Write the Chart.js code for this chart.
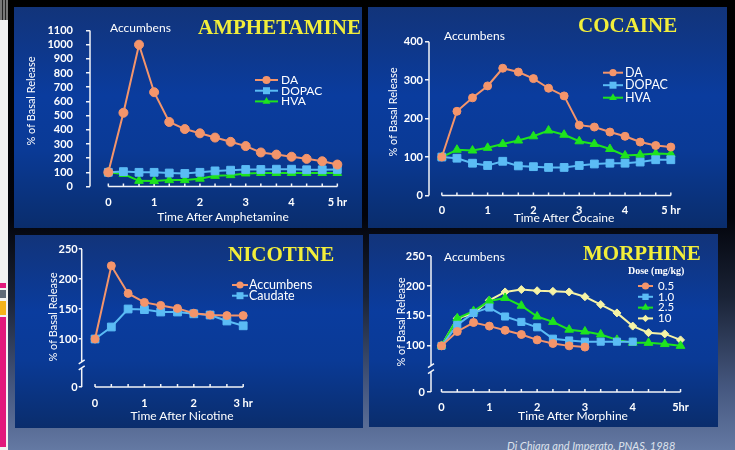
<!DOCTYPE html>
<html>
<head>
<meta charset="utf-8">
<script src="https://cdn.jsdelivr.net/npm/chart.js@4.4.0/dist/chart.umd.min.js"></script>
<style>
html, body { margin: 0; padding: 0; background: #000; }
#slide {
    position: relative; width: 735px; height: 450px; overflow: hidden;
    background: linear-gradient(to bottom, #000 0%, #02030a 48%, #1a2336 66%, #45577f 86%, #6479a3 100%);
    font-family: Lato, 'Open Sans', sans-serif; color: #fff;
}
.panel { position: absolute; background: linear-gradient(to bottom, #12347a 0%, #0a3c9e 40%, #0a3a96 65%, #0a2d6c 100%); }
.panel canvas { position: absolute; left: 0; top: 0; }
.txt { position: absolute; white-space: nowrap; line-height: 1; }
.drug { font-family: 'Liberation Serif', serif; font-weight: bold; font-size: 21px; color: #f2ee3a; transform: translateY(-50%); }
.site { font-size: 12px; transform: translateY(-50%); }
.ytitle { font-size: 11px; transform: translate(-50%, -50%) rotate(-90deg); }
.xtitle { font-size: 12px; transform: translate(-50%, -50%); }
.cite { font-size: 11px; font-style: italic; color: #dde2ec; transform: translateY(-50%); }
.bar { position: absolute; left: 0; width: 6px; }
</style>
</head>
<body>
<div id="slide">
    <!-- left edge of the slide template -->
    <div style="position:absolute;left:0;top:20px;width:8px;height:430px;background:#f2f2f2"></div>
    <div style="position:absolute;left:0;top:0;width:8px;height:20px;background:repeating-linear-gradient(to right,#777 0 2px,#222 2px 3px)"></div>
    <div class="bar" style="top:283px;height:5px;background:#e2187c"></div>
    <div class="bar" style="top:290px;height:8px;background:#5f6977"></div>
    <div class="bar" style="top:301px;height:14px;background:#f5b31a"></div>
    <div class="bar" style="top:317px;height:130px;background:#e2187c"></div>

    <div class="panel" style="left:14px;top:7px;width:348px;height:221px"><canvas id="amp" width="348" height="221"></canvas></div>
    <div class="panel" style="left:368px;top:7px;width:359px;height:221px"><canvas id="coc" width="359" height="221"></canvas></div>
    <div class="panel" style="left:15px;top:235px;width:348px;height:193px"><canvas id="nic" width="348" height="193"></canvas></div>
    <div class="panel" style="left:369px;top:234px;width:349px;height:193px"><canvas id="mor" width="349" height="193"></canvas></div>

    <div class="txt drug" style="left:198px;top:27px">AMPHETAMINE</div>
    <div class="txt drug" style="left:578px;top:25px">COCAINE</div>
    <div class="txt drug" style="left:228px;top:254px">NICOTINE</div>
    <div class="txt drug" style="left:583px;top:253px">MORPHINE</div>

    <div class="txt site" style="left:110px;top:28px">Accumbens</div>
    <div class="txt site" style="left:444px;top:36px">Accumbens</div>
    <div class="txt site" style="left:444px;top:257px">Accumbens</div>

    <div class="txt ytitle" style="left:30px;top:101px">% of Basal Release</div>
    <div class="txt ytitle" style="left:392px;top:112px">% of Basal Release</div>
    <div class="txt ytitle" style="left:52px;top:317px">% of Basal Release</div>
    <div class="txt ytitle" style="left:400px;top:322px">% of Basal Release</div>

    <div class="txt xtitle" style="left:223px;top:217px">Time After Amphetamine</div>
    <div class="txt xtitle" style="left:564px;top:218px">Time After Cocaine</div>
    <div class="txt xtitle" style="left:182px;top:416px">Time After Nicotine</div>
    <div class="txt xtitle" style="left:573px;top:416px">Time After Morphine</div>

    <div class="txt cite" style="left:507px;top:445px">Di Chiara and Imperato, PNAS, 1988</div>
</div>

<script>
// colours
const orange = '#f4956b';
const blue = '#5bbcf5';
const green = '#1ee41e';
const cream = '#f6f3a6';

// sample times (hours, every 20 min)
const time5 = [0, 0.33, 0.67, 1, 1.33, 1.67, 2, 2.33, 2.67, 3, 3.33, 3.67, 4, 4.33, 4.67, 5];
const time3 = [0, 0.33, 0.67, 1, 1.33, 1.67, 2, 2.33, 2.67, 3];

// amphetamine
const ampDA = [100, 520, 1000, 665, 455, 405, 375, 345, 315, 285, 240, 225, 210, 195, 178, 155];
const ampDOPAC = [100, 105, 100, 100, 95, 92, 100, 110, 115, 120, 120, 122, 122, 118, 118, 120];
const ampHVA = [100, 88, 40, 38, 45, 45, 55, 75, 80, 92, 95, 95, 95, 95, 95, 95];

// cocaine
const cocDA = [100, 219, 254, 285, 331, 321, 304, 279, 259, 183, 178, 165, 154, 139, 130, 126];
const cocDOPAC = [100, 97, 84, 78, 89, 77, 75, 73, 73, 78, 82, 84, 84, 87, 93, 93];
const cocHVA = [100, 119, 117, 124, 134, 143, 154, 169, 158, 141, 134, 121, 104, 106, 109, 108];

// nicotine
const nicAccumbens = [100, 222, 176, 161, 156, 151, 143, 140, 139, 139];
const nicCaudate = [100, 120, 150, 149, 145, 145, 142, 140, 130, 122];

// morphine, by dose (mg/kg)
const mor05 = [100, 124, 139, 133, 126, 119, 110, 104, 100, 98];
const mor10 = [100, 135, 155, 164, 149, 140, 131, 112, 109, 107, 107, 107, 107];
const mor25 = [100, 146, 158, 175, 180, 167, 149, 140, 127, 124, 119, 110, 105, 105, 103, 100];
const mor100 = [100, 146, 154, 176, 190, 194, 192, 191, 190, 182, 169, 155, 133, 122, 120, 110];

// axis ticks
const hr5Ticks = [0, 1, 2, 3, 4, 5];
const hr5Labels = ['0', '1', '2', '3', '4', '5 hr'];
const hr5LabelsMor = ['0', '1', '2', '3', '4', '5hr'];
const hr3Ticks = [0, 1, 2, 3];
const hr3Labels = ['0', '1', '2', '3 hr'];
const ampYTicks = [0, 100, 200, 300, 400, 500, 600, 700, 800, 900, 1000, 1100];
const cocYTicks = [0, 100, 200, 300, 400];
const brokenYTicks = [100, 150, 200, 250]; // "0" sits below the axis break

function series(label, times, values, color, style, radius) {
    return {
        label: label,
        data: values.map((v, i) => ({ x: times[i], y: v })),
        borderColor: color,
        backgroundColor: color,
        pointBackgroundColor: color,
        pointBorderColor: color,
        borderWidth: 2,
        pointBorderWidth: 1,
        pointStyle: style,
        pointRadius: radius,
        clip: false
    };
}

function drawMarker(ctx, style, r, x, y) {
    ctx.beginPath();
    if (style === 'circle') {
        ctx.arc(x, y, r, 0, Math.PI * 2);
    } else if (style === 'rect') {
        const s = r * Math.SQRT1_2;
        ctx.rect(x - s, y - s, 2 * s, 2 * s);
    } else if (style === 'triangle') {
        ctx.moveTo(x, y - r);
        ctx.lineTo(x + r * 0.87, y + r * 0.5);
        ctx.lineTo(x - r * 0.87, y + r * 0.5);
        ctx.closePath();
    } else {
        ctx.moveTo(x, y - r); ctx.lineTo(x + r, y); ctx.lineTo(x, y + r); ctx.lineTo(x - r, y);
        ctx.closePath();
    }
    ctx.fill();
}

// axis lines: y line (with optional break) and x line with small upward ticks
const slideAxes = {
    id: 'slideAxes',
    beforeDatasetsDraw(chart, args, o) {
        const { ctx, chartArea: a, scales: { x, y } } = chart;
        const top = y.getPixelForValue(y.max);
        const bottom = y.getPixelForValue(y.min);
        ctx.save();
        ctx.strokeStyle = '#f2f4f8';
        ctx.lineWidth = 1.5;
        ctx.beginPath();
        if (o.breakAt != null) {
            const b = y.getPixelForValue(o.breakAt);
            ctx.moveTo(a.left, top); ctx.lineTo(a.left, b - 3);
            ctx.moveTo(a.left, b + 3); ctx.lineTo(a.left, bottom);
            ctx.moveTo(a.left - 3, b - 1); ctx.lineTo(a.left + 3, b - 5);
            ctx.moveTo(a.left - 3, b + 5); ctx.lineTo(a.left + 3, b + 1);
        } else {
            ctx.moveTo(a.left, top); ctx.lineTo(a.left, bottom);
        }
        const m = o.marks;
        ctx.moveTo(x.getPixelForValue(m[0]), a.bottom);
        ctx.lineTo(x.getPixelForValue(m[m.length - 1]), a.bottom);
        m.forEach(t => {
            const px = x.getPixelForValue(t);
            ctx.moveTo(px, a.bottom);
            ctx.lineTo(px, a.bottom - 3);
        });
        ctx.stroke();
        ctx.restore();
    }
};

// legend with a short line and marker per series
const lineLegend = {
    id: 'lineLegend',
    afterDraw(chart, args, o) {
        const ctx = chart.ctx;
        ctx.save();
        ctx.fillStyle = '#fff';
        ctx.textBaseline = 'middle';
        if (o.heading) {
            ctx.font = o.headingFont;
            ctx.fillText(o.heading, o.hx, o.hy);
        }
        ctx.font = o.font;
        chart.data.datasets.forEach((ds, i) => {
            const y = o.y + i * o.rowH;
            ctx.strokeStyle = ds.borderColor;
            ctx.fillStyle = ds.borderColor;
            ctx.lineWidth = 2;
            ctx.beginPath();
            ctx.moveTo(o.x, y);
            ctx.lineTo(o.x + o.lineLen, y);
            ctx.stroke();
            drawMarker(ctx, ds.pointStyle, ds.pointRadius * 0.9, o.x + o.lineLen / 2, y);
            ctx.fillStyle = '#fff';
            ctx.fillText(ds.label, o.x + o.lineLen + o.gap, y);
        });
        ctx.restore();
    }
};

function makeChart(id, o) {
    const canvas = document.getElementById(id);
    const W = canvas.width, H = canvas.height;
    const tickFont = { family: 'Lato', size: 11, weight: 'bold' };
    return new Chart(canvas, {
        type: 'line',
        data: { datasets: o.datasets },
        options: {
            responsive: false,
            animation: false,
            layout: { padding: { left: 0, top: o.area.top, right: W - o.area.right, bottom: 0 } },
            plugins: {
                legend: { display: false },
                tooltip: { enabled: false },
                lineLegend: o.legend,
                slideAxes: { breakAt: o.breakAt, marks: o.marks }
            },
            scales: {
                x: {
                    type: 'linear', min: o.xMin, max: o.xMax,
                    afterFit: s => { s.height = H - o.area.bottom; },
                    afterBuildTicks: s => { s.ticks = o.xTicks.map(v => ({ value: v })); },
                    ticks: { color: '#fff', padding: o.xPad, font: tickFont, maxRotation: 0, autoSkip: false,
                        callback: (v, i) => o.xLabels[i] },
                    grid: { display: false, drawTicks: false },
                    border: { display: false }
                },
                y: {
                    type: 'linear', min: o.yMin, max: o.yMax,
                    afterFit: s => { s.width = o.area.left; },
                    afterBuildTicks: s => {
                        const vals = o.breakAt != null ? [o.yMin].concat(o.yTicks) : o.yTicks;
                        s.ticks = vals.map(v => ({ value: v }));
                    },
                    ticks: { color: '#fff', padding: o.yPad, font: tickFont, autoSkip: false,
                        callback: v => (v === o.yMin ? '0' : String(v)) },
                    grid: { drawOnChartArea: false, color: '#f2f4f8', lineWidth: 1.5, tickLength: o.tickLen },
                    border: { display: false }
                }
            }
        },
        plugins: [slideAxes, lineLegend]
    });
}

makeChart('amp', {
    datasets: [
        series('DA', time5, ampDA, orange, 'circle', 4.5),
        series('DOPAC', time5, ampDOPAC, blue, 'rect', 5.5),
        series('HVA', time5, ampHVA, green, 'triangle', 5)
    ],
    area: { left: 76, top: 23.5, right: 332.5, bottom: 179.5 },
    xMin: -0.4, xMax: 5.2, xTicks: hr5Ticks, xLabels: hr5Labels, marks: time5, xPad: 9,
    yMin: 0, yMax: 1100, yTicks: ampYTicks, yPad: 13, tickLen: 4,
    legend: { x: 241, y: 73, rowH: 10.7, lineLen: 23, gap: 3, font: '12px Lato' }
});

makeChart('coc', {
    datasets: [
        series('DA', time5, cocDA, orange, 'circle', 4),
        series('DOPAC', time5, cocDOPAC, blue, 'rect', 5.5),
        series('HVA', time5, cocHVA, green, 'triangle', 5)
    ],
    area: { left: 61, top: 34.7, right: 312, bottom: 188.5 },
    xMin: -0.28, xMax: 5.2, xTicks: hr5Ticks, xLabels: hr5Labels, marks: time5, xPad: 8,
    yMin: 0, yMax: 400, yTicks: cocYTicks, yPad: 2, tickLen: 4,
    legend: { x: 235, y: 65.7, rowH: 12.5, lineLen: 20, gap: 2, font: '12.5px Lato' }
});

makeChart('nic', {
    datasets: [
        series('Accumbens', time3, nicAccumbens, orange, 'circle', 4),
        series('Caudate', time3, nicCaudate, blue, 'rect', 5.5)
    ],
    area: { left: 66.7, top: 14, right: 235.6, bottom: 152 },
    xMin: -0.27, xMax: 3.15, xTicks: hr3Ticks, xLabels: hr3Labels, marks: time3, xPad: 10,
    yMin: 20, yMax: 250, yTicks: brokenYTicks, breakAt: 57, yPad: 1, tickLen: 3,
    legend: { x: 217, y: 50, rowH: 10.7, lineLen: 16, gap: 1, font: '12.5px Lato' }
});

makeChart('mor', {
    datasets: [
        series('0.5', time5, mor05, orange, 'circle', 4),
        series('1.0', time5, mor10, blue, 'rect', 5),
        series('2.5', time5, mor25, green, 'triangle', 5),
        series('10', time5, mor100, cream, 'rectRot', 4)
    ],
    area: { left: 62, top: 22, right: 318.7, bottom: 158 },
    xMin: -0.22, xMax: 5.15, xTicks: hr5Ticks, xLabels: hr5LabelsMor, marks: time5, xPad: 8.5,
    yMin: 23, yMax: 250, yTicks: brokenYTicks, breakAt: 62, yPad: 2, tickLen: 4,
    legend: { x: 269, y: 52, rowH: 10.8, lineLen: 15, gap: 5, font: '11.5px Lato',
        heading: 'Dose (mg/kg)', hx: 259, hy: 37.7, headingFont: 'bold 10px "Liberation Serif"' }
});
</script>
</body>
</html>
